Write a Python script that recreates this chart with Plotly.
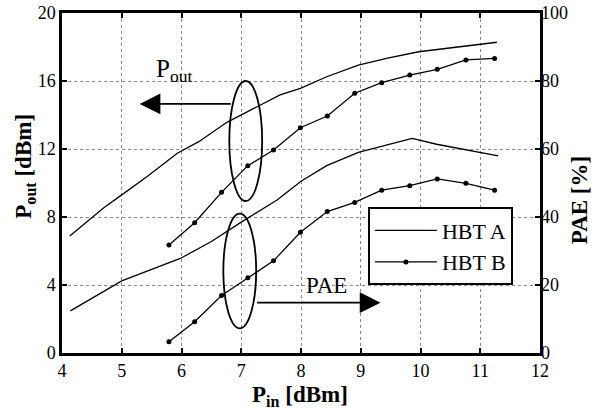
import plotly.graph_objects as go

# ---- data ----
pin_a_pout = [4.13, 4.7, 5.0, 5.42, 5.93, 6.29, 6.76, 7.65, 7.99, 8.43, 8.96, 9.45, 9.97, 10.6, 11.28]
pout_a = [6.88, 8.55, 9.3, 10.37, 11.75, 12.43, 13.57, 15.18, 15.57, 16.25, 16.94, 17.35, 17.72, 18.0, 18.28]

pin_a_pae = [4.14, 5.0, 5.98, 6.5, 7.0, 7.6, 8.0, 8.43, 8.96, 9.86, 10.27, 10.94, 11.3]
pae_a = [12.4, 21.2, 27.8, 32.8, 38.5, 45.0, 50.5, 55.1, 59.0, 63.1, 61.4, 59.2, 58.0]

pin_b = [5.79, 6.22, 6.67, 7.11, 7.54, 7.99, 8.44, 8.90, 9.35, 9.82, 10.28, 10.76, 11.24]
pout_b = [6.35, 7.66, 9.45, 11.02, 11.94, 13.25, 13.94, 15.28, 15.9, 16.35, 16.69, 17.24, 17.33]
pae_b = [3.3, 9.2, 16.9, 22.1, 27.1, 35.5, 41.6, 44.3, 47.9, 49.2, 51.2, 49.9, 47.9]

x_ticks = [4, 5, 6, 7, 8, 9, 10, 11, 12]
y_ticks = [0, 4, 8, 12, 16, 20]
y2_ticks = [0, 20, 40, 60, 80, 100]

FONT = "Liberation Serif"
BLACK = "black"

fig = go.Figure()
fig.add_trace(go.Scatter(x=pin_a_pout, y=pout_a, mode="lines", name="HBT A",
                         line=dict(color=BLACK, width=1.3), legendgroup="A"))
fig.add_trace(go.Scatter(x=pin_b, y=pout_b, mode="lines+markers", name="HBT B",
                         line=dict(color=BLACK, width=1.3), marker=dict(color=BLACK, size=5),
                         legendgroup="B"))
fig.add_trace(go.Scatter(x=pin_a_pae, y=pae_a, mode="lines", name="HBT A", yaxis="y2",
                         line=dict(color=BLACK, width=1.3), legendgroup="A", showlegend=False))
fig.add_trace(go.Scatter(x=pin_b, y=pae_b, mode="lines+markers", name="HBT B", yaxis="y2",
                         line=dict(color=BLACK, width=1.3), marker=dict(color=BLACK, size=5),
                         legendgroup="B", showlegend=False))

# ellipses
fig.add_shape(type="circle", xref="x", yref="y", x0=6.8, x1=7.35, y0=8.94, y1=16.0,
              line=dict(color=BLACK, width=1.8))
fig.add_shape(type="circle", xref="x", yref="y", x0=6.70, x1=7.25, y0=1.45, y1=8.2,
              line=dict(color=BLACK, width=1.8))

# arrows
fig.add_annotation(x=5.3, y=14.65, ax=6.85, ay=14.65, xref="x", yref="y", axref="x", ayref="y",
                   text="", showarrow=True, arrowhead=2, arrowsize=2.3, arrowwidth=1.8,
                   arrowcolor=BLACK)
fig.add_annotation(x=9.33, y=2.96, ax=7.24, ay=2.96, xref="x", yref="y", axref="x", ayref="y",
                   text="", showarrow=True, arrowhead=2, arrowsize=2.3, arrowwidth=1.8,
                   arrowcolor=BLACK)
fig.add_annotation(x=5.87, y=16.6, xref="x", yref="y", text="P<sub>out</sub>", showarrow=False,
                   font=dict(family=FONT, size=25, color=BLACK))
fig.add_annotation(x=8.42, y=4.0, xref="x", yref="y", text="PAE", showarrow=False,
                   font=dict(family=FONT, size=23, color=BLACK))

# axis titles
title_font = dict(family=FONT, size=23, color=BLACK)
fig.add_annotation(x=0.498, y=-0.126, xref="paper", yref="paper", xanchor="center", yanchor="middle",
                   text="<b>P<sub>in</sub> [dBm]</b>", showarrow=False, font=title_font)
fig.add_annotation(x=-0.078, y=0.55, xref="paper", yref="paper", xanchor="center", yanchor="middle",
                   textangle=-90, text="<b>P<sub>out</sub> [dBm]</b>", showarrow=False, font=title_font)
fig.add_annotation(x=1.082, y=0.45, xref="paper", yref="paper", xanchor="center", yanchor="middle",
                   textangle=-90, text="<b>PAE [%]</b>", showarrow=False, font=title_font)

axis_common = dict(showline=True, linecolor=BLACK, linewidth=2.5, ticks="inside", ticklen=5,
                   tickwidth=2, tickcolor=BLACK, zeroline=False, automargin=False,
                   tickfont=dict(family=FONT, size=18, color=BLACK))

fig.update_layout(
    template="none",
    width=602, height=411,
    margin=dict(l=62, r=62, t=13, b=58, autoexpand=False),
    paper_bgcolor="white", plot_bgcolor="white",
    font=dict(family=FONT, color=BLACK),
    xaxis=dict(range=[4, 12], tickvals=x_ticks, mirror="ticks", showgrid=True,
               gridcolor="#888", griddash="dot", gridwidth=1, **axis_common),
    yaxis=dict(range=[0, 20], tickvals=y_ticks, mirror="ticks", showgrid=True,
               gridcolor="#888", griddash="dot", gridwidth=1, ticklabelstandoff=0,
               **axis_common),
    yaxis2=dict(range=[0, 100], tickvals=y2_ticks, overlaying="y", side="right", showgrid=False,
                showline=False, ticks="", zeroline=False, ticklabelstandoff=0, automargin=False,
                tickfont=dict(family=FONT, size=18, color=BLACK)),
    legend=dict(x=0.64, y=0.428, xanchor="left", yanchor="top", bgcolor="white",
                bordercolor=BLACK, borderwidth=2, font=dict(family=FONT, size=22, color=BLACK),
                itemwidth=62, tracegroupgap=0),
    showlegend=True,
)

fig.write_html("out.html", config={"displayModeBar": False},
               post_script="document.body.style.margin='0';document.body.style.overflow='hidden';")
